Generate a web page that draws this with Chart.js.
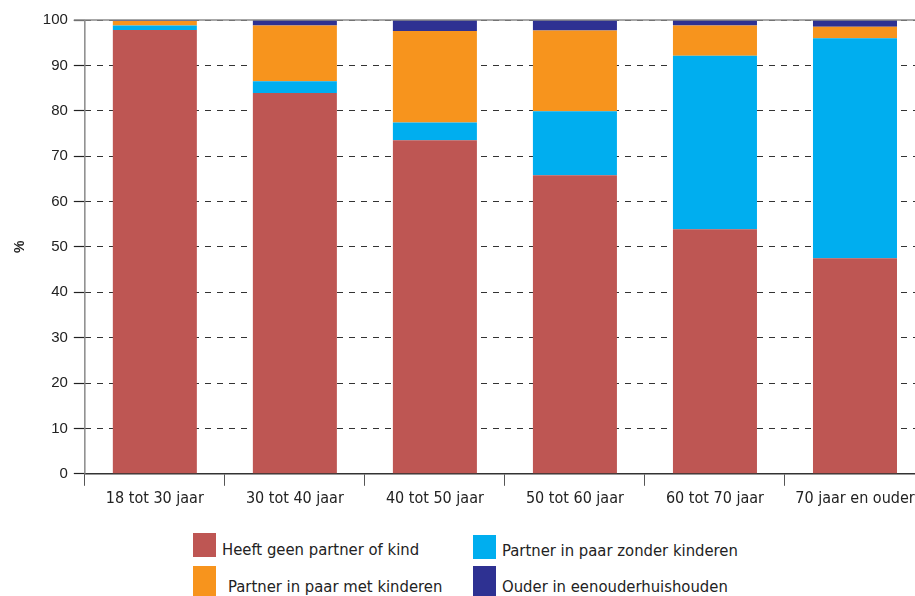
<!DOCTYPE html>
<html>
<head>
<meta charset="utf-8">
<script src="https://cdn.jsdelivr.net/npm/chart.js@4"></script>
<style>
  html, body { margin: 0; padding: 0; background: #fff; overflow: hidden; width: 915px; height: 596px; }
  #wrap { position: absolute; left: 0; top: 0; width: 930px; height: 520px; }
  .leg { position: absolute; font-family: "DejaVu Sans Condensed", sans-serif; font-size: 16.5px; color: #222; white-space: nowrap; }
  .box { position: absolute; width: 23px; height: 24px; }
</style>
</head>
<body>
<div id="wrap"><canvas id="chart"></canvas></div>
<div class="box" style="left:193px;top:533px;background:#BE5653"></div>
<div class="leg" style="left:222px;top:540px">Heeft geen partner of kind</div>
<div class="box" style="left:473px;top:535px;background:#00AEEF"></div>
<div class="leg" style="left:502px;top:541px">Partner in paar zonder kinderen</div>
<div class="box" style="left:193px;top:566px;height:30px;background:#F7941D"></div>
<div class="leg" style="left:228px;top:577px">Partner in paar met kinderen</div>
<div class="box" style="left:473px;top:566px;height:30px;background:#2E3192"></div>
<div class="leg" style="left:502px;top:577px">Ouder in eenouderhuishouden</div>
<script>
const categories = ['18 tot 30 jaar', '30 tot 40 jaar', '40 tot 50 jaar', '50 tot 60 jaar', '60 tot 70 jaar', '70 jaar en ouder'];
const geenPartner = [97.8, 83.9, 73.5, 65.8, 53.9, 47.5];
const zonderKinderen = [1.0, 2.6, 3.9, 14.1, 38.2, 48.5];
const metKinderen = [1.0, 12.3, 20.2, 17.8, 6.7, 2.5];
const eenouder = [0.2, 1.2, 2.4, 2.3, 1.2, 1.5];

// solid line along the 100 line and the y axis
const axisLines = {
  id: 'axisLines',
  afterDatasetsDraw(chart) {
    const { ctx, chartArea } = chart;
    ctx.save();
    ctx.strokeStyle = '#8a8a8a';
    ctx.lineWidth = 1.5;
    ctx.beginPath();
    ctx.moveTo(chartArea.left - 11, chartArea.top);
    ctx.lineTo(chartArea.right, chartArea.top);
    ctx.moveTo(chartArea.left, chartArea.top);
    ctx.lineTo(chartArea.left, chartArea.bottom);
    ctx.stroke();
    ctx.restore();
  }
};

const ctx = document.getElementById('chart').getContext('2d');
new Chart(ctx, {
  type: 'bar',
  data: {
    labels: categories,
    datasets: [
      { label: 'Heeft geen partner of kind', data: geenPartner, backgroundColor: '#BE5653' },
      { label: 'Partner in paar zonder kinderen', data: zonderKinderen, backgroundColor: '#00AEEF' },
      { label: 'Partner in paar met kinderen', data: metKinderen, backgroundColor: '#F7941D' },
      { label: 'Ouder in eenouderhuishouden', data: eenouder, backgroundColor: '#2E3192' },
    ],
  },
  options: {
    responsive: true,
    maintainAspectRatio: false,
    animation: false,
    layout: { padding: { top: 20, right: 5, left: 4, bottom: 9 } },
    datasets: { bar: { categoryPercentage: 0.6, barPercentage: 1.0 } },
    plugins: {
      legend: { display: false },
      tooltip: { enabled: false },
    },
    scales: {
      x: {
        stacked: true,
        grid: { offset: true, drawOnChartArea: false, drawTicks: true, tickLength: 12, color: '#555', lineWidth: 1 },
        border: { color: '#333', width: 1.5 },
        ticks: { color: '#222', padding: 3, font: { family: '"DejaVu Sans Condensed", sans-serif', size: 16 } },
      },
      y: {
        stacked: true,
        min: 0,
        max: 100,
        ticks: { stepSize: 10, color: '#222', padding: 6, font: { family: 'Arial, "Liberation Sans", sans-serif', size: 15 } },
        grid: { color: '#333', lineWidth: 1, tickLength: 11, tickColor: '#222', tickWidth: 1.2 },
        border: { display: false, dash: [6, 6] },
        title: { display: true, text: '%', color: '#222', padding: 8, font: { family: 'Arial, "Liberation Sans", sans-serif', size: 14, weight: 'bold' } },
      },
    },
  },
  plugins: [axisLines],
});
</script>
</body>
</html>
